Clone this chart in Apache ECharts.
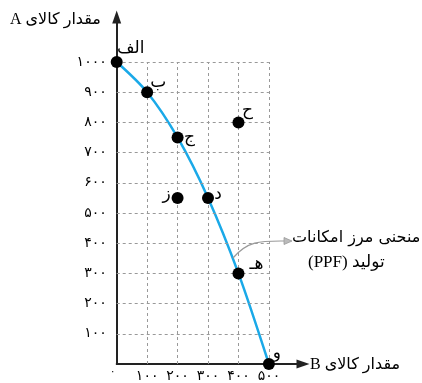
<!DOCTYPE html>
<html>
<head>
<meta charset="UTF-8">
<script src="https://cdn.jsdelivr.net/npm/echarts@6/dist/echarts.min.js"></script>
<style>
  html, body { margin: 0; padding: 0; background: #fff; }
  #main { width: 422px; height: 383px; }
</style>
</head>
<body>
<div id="main"></div>
<script>
// نقاط نمودار
var pointNames = ['الف', 'ب', 'ج', 'د', 'هـ', 'و', 'ح', 'ز'];
var goodB = [0, 100, 200, 300, 400, 500, 400, 200];
var goodA = [1000, 900, 750, 550, 300, 0, 800, 550];
// نقاط روی منحنی (PPF)
var curveB = [0, 100, 200, 300, 400, 500];
var curveA = [1000, 900, 750, 550, 300, 0];
// برچسب محورها
var xTicks = [100, 200, 300, 400, 500];
var yTicks = [100, 200, 300, 400, 500, 600, 700, 800, 900, 1000];

var persianDigits = '۰۱۲۳۴۵۶۷۸۹';
function fa(n) {
  return String(n).replace(/[0-9]/g, function (d) { return persianDigits[+d]; });
}

// جای برچسب هر نقطه
var labelOffset = {
  'الف': [14, -13], 'ب': [11, -10], 'ج': [12, 0], 'د': [10, -3],
  'هـ': [18, -9], 'و': [8, -10], 'ح': [9, -12], 'ز': [-11, -3]
};

var faFont = '"DejaVu Sans", sans-serif';
var serifFont = '"Liberation Serif", "DejaVu Sans", serif';
var chart = echarts.init(document.getElementById('main'));

var gridLines = [];
xTicks.forEach(function (v) { gridLines.push([{ coord: [v, 0] }, { coord: [v, 1000] }]); });
yTicks.forEach(function (v) { gridLines.push([{ coord: [0, v] }, { coord: [500, v] }]); });

var option = {
  backgroundColor: '#fff',
  animation: false,
  grid: { left: 116.7, top: 17, width: 186.3, height: 348.7 },
  xAxis: {
    type: 'value', min: 0, max: 612,
    axisLine: { lineStyle: { color: '#222', width: 2 }, symbol: ['none', 'triangle'], symbolSize: [9, 13] },
    axisTick: { show: false },
    splitLine: { show: false },
    axisLabel: {
      customValues: xTicks, margin: 5, color: '#000', fontSize: 14, fontFamily: faFont,
      formatter: function (v) { return fa(v); }
    }
  },
  yAxis: {
    type: 'value', min: 0, max: 1149,
    axisLine: { lineStyle: { color: '#222', width: 2 }, symbol: ['none', 'triangle'], symbolSize: [9, 13] },
    axisTick: { show: false },
    splitLine: { show: false },
    axisLabel: {
      customValues: yTicks, margin: 10, color: '#000', fontSize: 14, fontFamily: faFont,
      formatter: function (v) { return fa(v); }
    }
  },
  graphic: [
    { type: 'text', left: 10, top: 12, style: { text: 'A مقدار کالای', fontSize: 16, fontFamily: serifFont, fill: '#000' } },
    { type: 'text', left: 310, top: 357, style: { text: 'B مقدار کالای', fontSize: 16, fontFamily: serifFont, fill: '#000' } },
    { type: 'text', left: 110, top: 366, style: { text: fa(0), fontSize: 10, fontFamily: faFont, fill: '#000' } },
    { type: 'text', left: 292, top: 230, style: { text: 'منحنی مرز امکانات', fontSize: 16, fontFamily: faFont, fill: '#000' } },
    { type: 'text', left: 308, top: 254, style: { text: '(PPF) تولید', fontSize: 17, fontFamily: serifFont, fill: '#000' } },
    { type: 'bezierCurve', shape: { x1: 233, y1: 258, cpx1: 248, cpy1: 240, cpx2: 262, cpy2: 241, x2: 285, y2: 241 },
      style: { stroke: '#999', lineWidth: 1.2, fill: null }, z: 10 },
    { type: 'polygon', shape: { points: [[284, 237.5], [292, 241], [284, 244.5]] },
      style: { fill: '#bbb', stroke: '#999', lineWidth: 0.8 }, z: 10 }
  ],
  series: [
    {
      type: 'line', data: [], z: 1, silent: true,
      markLine: {
        silent: true, symbol: 'none', label: { show: false },
        lineStyle: { color: '#999', type: [3, 3], width: 1 },
        data: gridLines
      }
    },
    {
      type: 'line', z: 3,
      data: curveB.map(function (b, i) { return [b, curveA[i]]; }),
      smooth: 0.3, showSymbol: false,
      lineStyle: { color: '#1aa9e8', width: 2.5 }
    },
    {
      type: 'scatter', z: 5, symbolSize: 12,
      itemStyle: { color: '#000', opacity: 1 },
      data: pointNames.map(function (n, i) {
        return {
          value: [goodB[i], goodA[i]], name: n,
          label: { show: true, position: 'inside', offset: labelOffset[n], formatter: n,
                   color: '#000', fontSize: 17, fontFamily: faFont }
        };
      })
    }
  ]
};
chart.setOption(option);
</script>
</body>
</html>
